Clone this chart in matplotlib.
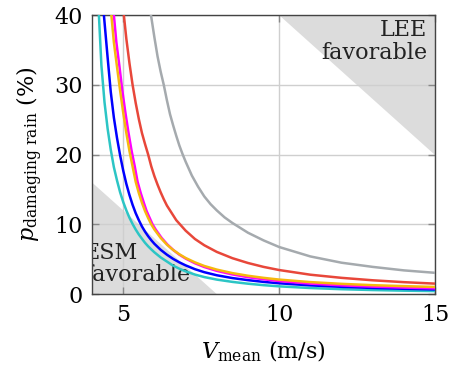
import matplotlib
matplotlib.use("Agg")
import matplotlib.pyplot as plt

# ---- data ----
cyan_x = [4.22, 4.3, 4.4, 4.5, 4.6, 4.7, 4.8, 4.9, 5.0, 5.1, 5.2, 5.3, 5.4, 5.5, 5.6, 5.7, 5.8, 5.9,
          6.0, 6.2, 6.4, 6.6, 6.8, 7.0, 7.3, 7.6, 8.0, 8.5, 9.0, 9.5, 10, 11, 12, 13, 14, 15]
cyan_y = [40, 32.8, 27.5, 23.7, 20.7, 18.2, 16.3, 14.6, 13.2, 12.0, 10.95, 10.05, 9.26, 8.55, 7.94, 7.35, 6.85, 6.41,
          5.99, 5.26, 4.67, 4.08, 3.64, 3.26, 2.8, 2.44, 2.08, 1.75, 1.49, 1.28, 1.11, 0.87, 0.70, 0.58, 0.49, 0.43]

blue_x = [4.38, 4.5, 4.6, 4.7, 4.8, 4.9, 5.0, 5.1, 5.2, 5.3, 5.4, 5.5, 5.6, 5.7, 5.8, 5.9,
          6.0, 6.2, 6.4, 6.6, 6.8, 7.0, 7.3, 7.6, 8.0, 8.5, 9.0, 9.5, 10, 11, 12, 13, 14, 15]
blue_y = [40, 33.9, 29.0, 25.3, 22.4, 19.9, 17.7, 15.8, 14.2, 12.8, 11.6, 10.6, 9.7, 8.95, 8.3, 7.72,
          7.21, 6.35, 5.65, 5.05, 4.55, 4.12, 3.57, 3.14, 2.70, 2.30, 2.0, 1.75, 1.55, 1.25, 1.04, 0.88, 0.76, 0.67]

magenta_x = [4.70, 4.78, 4.88, 4.97, 5.07, 5.17, 5.27, 5.37, 5.46, 5.56, 5.66, 5.75, 5.85, 5.94,
             6.04, 6.23, 6.42, 6.61, 6.8, 7.0, 7.3, 7.6, 8.0, 8.5, 9.0, 9.5, 10, 11, 12, 13, 14, 15]
magenta_y = [40, 36.1, 32.6, 29.2, 26.0, 23.1, 20.5, 18.3, 16.1, 14.5, 13.1, 11.9, 10.9, 10.0,
             9.26, 8.06, 7.09, 6.3, 5.65, 5.1, 4.42, 3.88, 3.33, 2.82, 2.42, 2.12, 1.87, 1.5, 1.25, 1.07, 0.93, 0.82]

orange_x = [4.62, 4.7, 4.8, 4.9, 5.0, 5.1, 5.2, 5.3, 5.4, 5.5, 5.6, 5.7, 5.8, 5.9,
            6.0, 6.2, 6.4, 6.6, 6.8, 7.0, 7.3, 7.6, 8.0, 8.5, 9.0, 9.5, 10, 11, 12, 13, 14, 15]
orange_y = [40, 36.1, 32.6, 29.2, 26.0, 23.1, 20.5, 18.3, 16.1, 14.5, 13.1, 11.9, 10.9, 10.0,
            9.26, 8.06, 7.09, 6.33, 5.71, 5.18, 4.55, 4.03, 3.51, 3.01, 2.63, 2.33, 2.08, 1.72, 1.47, 1.28, 1.14, 1.02]

red_x = [5.02, 5.1, 5.2, 5.3, 5.4, 5.5, 5.6, 5.7, 5.8, 5.9, 6.0, 6.1, 6.2, 6.3, 6.4, 6.5, 6.6, 6.7, 6.8,
         7.0, 7.3, 7.6, 8.0, 8.5, 9.0, 9.5, 10, 11, 12, 13, 14, 15]
red_y = [40, 36.6, 33.1, 30.0, 27.4, 25.1, 23.1, 21.5, 20.0, 18.3, 16.9, 15.7, 14.6, 13.6, 12.7, 12.0, 11.3, 10.6, 10.1,
         9.1, 7.9, 7.0, 6.05, 5.15, 4.46, 3.9, 3.45, 2.78, 2.33, 1.98, 1.71, 1.5]

gray_x = [5.89, 6.0, 6.1, 6.2, 6.3, 6.4, 6.5, 6.6, 6.7, 6.8, 6.9, 7.0, 7.2, 7.4, 7.6, 7.8, 8.0, 8.25, 8.5,
          9.0, 9.5, 10, 11, 12, 13, 14, 15]
gray_y = [40, 36.8, 34.1, 31.9, 30.0, 27.8, 25.8, 24.2, 22.7, 21.3, 20.1, 19.0, 17.0, 15.4, 14.0, 12.9, 12.0, 11.0, 10.2,
          8.8, 7.7, 6.75, 5.4, 4.5, 3.9, 3.4, 3.05]

# favourable regions (triangle vertices in data units)
lee_x = [10, 15, 15]
lee_y = [40, 40, 20]
esm_x = [4, 4, 8]
esm_y = [0, 16, 0]

x_ticks = [5, 10, 15]
y_ticks = [0, 10, 20, 30, 40]

# ---- style ----
plt.rcParams['font.family'] = ['DejaVu Serif']
plt.rcParams['mathtext.fontset'] = 'dejavuserif'
plt.rcParams['font.size'] = 16

fig = plt.figure(figsize=(4.49, 3.69), dpi=100)
ax = fig.add_axes([0.205, 0.203, 0.764, 0.756])

ax.fill(lee_x, lee_y, color='#dcdcdc', lw=0, zorder=1)
ax.fill(esm_x, esm_y, color='#dcdcdc', lw=0, zorder=1)

for xv in x_ticks:
    ax.axvline(xv, color='#cfcfcf', lw=1.0, zorder=1.5)
for yv in y_ticks:
    ax.axhline(yv, color='#cfcfcf', lw=1.0, zorder=1.5)

lw = 1.8
ax.plot(cyan_x, cyan_y, color='#2cc5c5', lw=lw, zorder=3)
ax.plot(blue_x, blue_y, color='#0000ff', lw=lw, zorder=3.1)
ax.plot(magenta_x, magenta_y, color='#ff00ff', lw=lw, zorder=3.2)
ax.plot(orange_x, orange_y, color='#f6b80e', lw=lw, zorder=3.3)
ax.plot(red_x, red_y, color='#e8473a', lw=lw, zorder=3.4)
ax.plot(gray_x, gray_y, color='#a5aaae', lw=lw, zorder=3.5)

ax.text(14.75, 39.4, 'LEE\nfavorable', ha='right', va='top', fontsize=16,
        linespacing=1.05, color='#222222', zorder=2)
ax.text(3.75, 1.1, 'ESM\nfavorable', ha='left', va='bottom', fontsize=16,
        linespacing=1.05, color='#222222', zorder=2, clip_on=True)

ax.set_xlim(4, 15)
ax.set_ylim(0, 40)
ax.set_xticks(x_ticks)
ax.set_yticks(y_ticks)
ax.tick_params(direction='in', length=5, width=1, color='#888888',
               top=True, right=True, labelsize=16, pad=7)
for s in ax.spines.values():
    s.set_color('#444444')
    s.set_linewidth(1.0)

ax.set_xlabel(r'$V_{\mathrm{mean}}$ (m/s)', fontsize=16, labelpad=9)
ax.set_ylabel(r'$p_{\mathrm{damaging\ rain}}$ (%)', fontsize=16, labelpad=6)

fig.savefig('out.png', dpi=100)
